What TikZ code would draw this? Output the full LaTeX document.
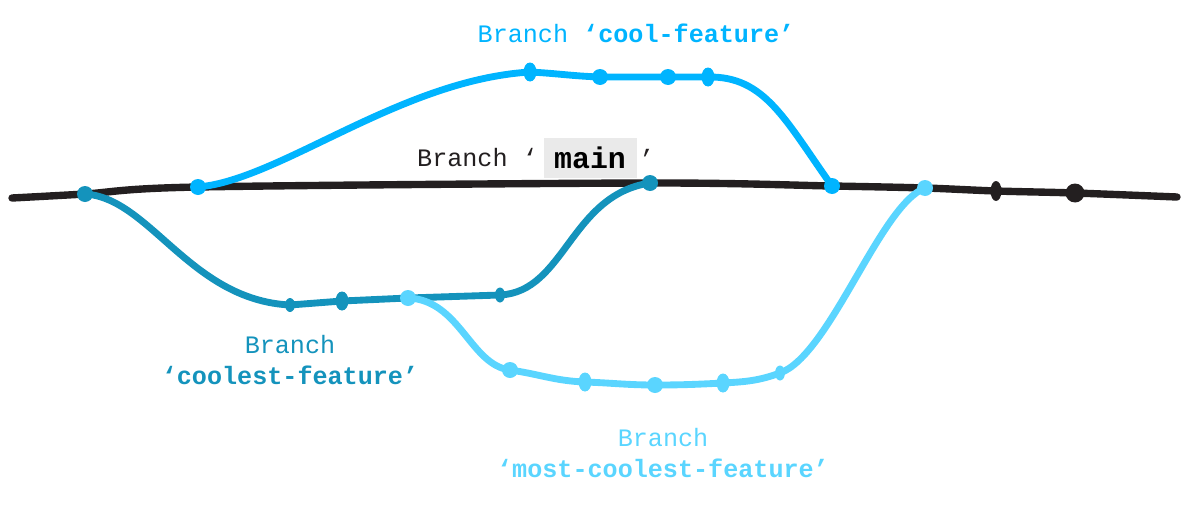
\documentclass[tikz,border=0pt]{standalone}
\usepackage{fontspec}
\setmonofont{Liberation Mono}
\usetikzlibrary{positioning,shapes.geometric}

\definecolor{mainclr}{HTML}{231F20}
\definecolor{coolclr}{HTML}{00B4FF}
\definecolor{coolestclr}{HTML}{1493BC}
\definecolor{mostclr}{HTML}{5AD5FF}
\definecolor{boxgray}{HTML}{EAEAEA}

\tikzset{
	branch/.style={line width=3.9pt, line cap=round, line join=round},
	commit/.style={circle, fill, inner sep=0pt, minimum size=0.32cm},
	tick/.style={ellipse, fill, inner sep=0pt, minimum width=0.26cm, minimum height=0.38cm},
	lbl/.style={font=\ttfamily\fontsize{14.3}{17.6}\selectfont, inner sep=0pt, align=center},
}

\begin{document}
\begin{tikzpicture}[x=0.02cm, y=-0.02cm]
	\useasboundingbox (0,0) rectangle (1189,504);

	% main
	\coordinate (m0) at (12,198);
	\coordinate (m1) at (85,194);
	\coordinate (m2) at (198,187);
	\coordinate (m3) at (650,183);
	\coordinate (m4) at (832,186);
	\coordinate (m5) at (925,188);
	\coordinate (m6) at (996,191);
	\coordinate (m7) at (1075,193);
	\coordinate (m8) at (1177,197);
	\draw[branch, mainclr, line width=4.2pt] plot[smooth, tension=0.5] coordinates {(m0) (m1) (m2) (m3) (m4) (m5) (m6) (m7) (m8)};

	% cool-feature
	\coordinate (c1) at (530,72);
	\coordinate (c2) at (600,77);
	\coordinate (c3) at (668,77);
	\coordinate (c4) at (708,77);
	\draw[branch, coolclr] (m2) .. controls (280,180) and (400,80) .. (c1)
		to[out=-3, in=178] (c2) -- (c3) -- (c4)
		.. controls (765,76) and (785,120) .. (m4);

	% coolest-feature
	\coordinate (k1) at (290,305);
	\coordinate (k2) at (342,301);
	\coordinate (k3) at (408,298);
	\coordinate (k4) at (500,295);
	\draw[branch, coolestclr] (m1) .. controls (150,198) and (190,300) .. (k1)
		-- (k2) -- (k3) -- (k4)
		.. controls (565,292) and (570,195) .. (m3);

	% most-coolest-feature
	\coordinate (s1) at (510,370);
	\coordinate (s2) at (585,382);
	\coordinate (s3) at (655,385);
	\coordinate (s4) at (723,383);
	\coordinate (s5) at (780,373);
	\draw[branch, mostclr] (k3) .. controls (460,300) and (470,365) .. (s1)
		to[out=-8, in=178] (s2) to[out=-2, in=180] (s3) to[out=0, in=183] (s4)
		to[out=3, in=200] (s5)
		.. controls (830,355) and (880,205) .. (m5);

	% commits
	\node[commit, coolclr] at (m2) {};
	\node[tick, coolclr] at (c1) {};
	\node[commit, coolclr] at (c2) {};
	\node[commit, coolclr] at (c3) {};
	\node[tick, coolclr] at (c4) {};
	\node[commit, coolclr] at (m4) {};
	\node[commit, coolestclr] at (m1) {};
	\node[tick, coolestclr, minimum width=0.2cm, minimum height=0.28cm] at (k1) {};
	\node[tick, coolestclr] at (k2) {};
	\node[tick, coolestclr, minimum width=0.2cm, minimum height=0.3cm] at (k4) {};
	\node[commit, coolestclr] at (m3) {};
	\node[commit, mostclr] at (k3) {};
	\node[commit, mostclr] at (s1) {};
	\node[tick, mostclr] at (s2) {};
	\node[commit, mostclr] at (s3) {};
	\node[tick, mostclr] at (s4) {};
	\node[tick, mostclr, minimum width=0.2cm, minimum height=0.3cm] at (s5) {};
	\node[commit, mostclr] at (m5) {};
	\node[tick, mainclr, minimum width=0.22cm, minimum height=0.4cm] at (m6) {};
	\node[commit, mainclr, minimum size=0.38cm] at (m7) {};

	% labels
	\node[lbl, coolclr] (coollbl) at (636,33) {Branch \textbf{‘cool-feature’}};
	\node[lbl, fill=boxgray, font=\ttfamily\fontsize{17}{20}\selectfont, minimum width=1.86cm, minimum height=0.8cm] (mainlbl) at (590,158) {\textbf{main}};
	\node[lbl, mainclr, left=0.1cm of mainlbl] (mainpre) {Branch ‘};
	\node[lbl, mainclr, right=0.04cm of mainlbl] (mainpost) {’};
	\node[lbl, coolestclr] (coolestlbl) at (290,360) {Branch\\\textbf{‘coolest-feature’}};
	\node[lbl, mostclr] (mostlbl) at (663,453) {Branch\\\textbf{‘most-coolest-feature’}};
\end{tikzpicture}
\end{document}
